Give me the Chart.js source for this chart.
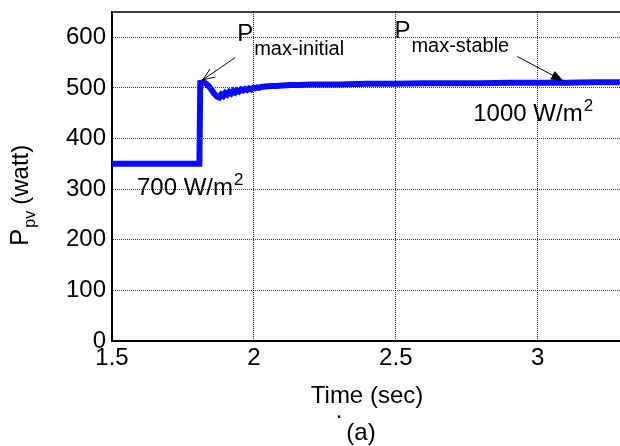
<!DOCTYPE html>
<html>
<head>
<meta charset="utf-8">
<script src="https://cdn.jsdelivr.net/npm/chart.js@4"></script>
<style>
  body { margin: 0; background: #fff; }
  #wrap { width: 620px; height: 446px; }
</style>
</head>
<body>
<div id="wrap"><canvas id="ppv" width="620" height="446"></canvas></div>
<script>
// time (sec) and PV power (watt)
const timeSec = [1.5, 1.808, 1.811, 1.82, 1.83, 1.84, 1.85, 1.86, 1.87, 1.878,
  1.885, 1.892, 1.899, 1.906, 1.913, 1.92, 1.927, 1.934, 1.941, 1.948,
  1.955, 1.962, 1.969, 1.976, 1.983, 1.99, 1.997, 2.004, 2.011, 2.018,
  2.025, 2.04, 2.06, 2.08, 2.1, 2.13, 2.16, 2.2, 2.3, 2.4,
  2.5, 2.6, 2.7, 2.8, 2.9, 3.0, 3.1, 3.2, 3.29]
const powerW = [350, 350, 510, 511, 509, 504, 497, 489, 483, 481,
  487, 484, 490, 487, 492, 489, 494, 491, 495, 493,
  497, 495, 498, 496, 499, 497, 500, 499, 501, 500,
  502, 503, 504, 504, 505, 506, 506, 507, 507, 508,
  508, 509, 509, 509, 510, 510, 510, 511, 511]

const xTicks = [1.5, 2, 2.5, 3]
const yTicks = [0, 100, 200, 300, 400, 500, 600]

const FONT = '"Liberation Sans", Arial, Helvetica, sans-serif'

// text + arrows drawn on top, anchored in data units
const annotations = {
  pInit: { t: 1.941, v: 592, sub: 'max-initial' },
  pStable: { t: 2.495, v: 598, sub: 'max-stable' },
  arrowInit: { from: [1.934, 560], to: [1.82, 516], filled: false },
  arrowStable: { from: [2.928, 562], to: [3.09, 514], filled: true },
  irr700: { t: 1.588, v: 289, text: '700 W/m' },
  irr1000: { t: 2.773, v: 434, text: '1000 W/m' },
}

function arrow(ctx, x0, y0, x1, y1, filled) {
  const a = Math.atan2(y1 - y0, x1 - x0)
  const len = 13, half = 0.38
  ctx.beginPath()
  ctx.moveTo(x0, y0)
  ctx.lineTo(x1, y1)
  ctx.stroke()
  ctx.beginPath()
  ctx.moveTo(x1 - len * Math.cos(a - half), y1 - len * Math.sin(a - half))
  ctx.lineTo(x1, y1)
  ctx.lineTo(x1 - len * Math.cos(a + half), y1 - len * Math.sin(a + half))
  if (filled) {
    ctx.closePath()
    ctx.fill()
  } else {
    ctx.stroke()
  }
}

const textPlugin = {
  id: 'textPlugin',
  afterDraw(chart) {
    const ctx = chart.ctx
    const xs = chart.scales.x, ys = chart.scales.y
    const a = chart.chartArea
    ctx.save()
    ctx.fillStyle = '#000'
    ctx.strokeStyle = '#000'

    // top frame line
    ctx.lineWidth = 1.5
    ctx.beginPath()
    ctx.moveTo(a.left, a.top)
    ctx.lineTo(a.right, a.top)
    ctx.stroke()

    ctx.textBaseline = 'alphabetic'
    ctx.textAlign = 'left'

    // P_max labels
    for (const k of ['pInit', 'pStable']) {
      const p = annotations[k]
      const x = xs.getPixelForValue(p.t), y = ys.getPixelForValue(p.v)
      ctx.font = '24px ' + FONT
      ctx.fillText('P', x, y)
      const w = ctx.measureText('P').width
      ctx.font = '20px ' + FONT
      ctx.fillText(p.sub, x + w + 1, y + 14)
    }

    // arrows
    ctx.lineWidth = 1
    for (const k of ['arrowInit', 'arrowStable']) {
      const r = annotations[k]
      arrow(ctx,
        xs.getPixelForValue(r.from[0]), ys.getPixelForValue(r.from[1]),
        xs.getPixelForValue(r.to[0]), ys.getPixelForValue(r.to[1]), r.filled)
    }

    // irradiance labels with superscript 2
    for (const k of ['irr700', 'irr1000']) {
      const p = annotations[k]
      const x = xs.getPixelForValue(p.t), y = ys.getPixelForValue(p.v)
      ctx.font = '24px ' + FONT
      ctx.fillText(p.text, x, y)
      const w = ctx.measureText(p.text).width
      ctx.font = '17px ' + FONT
      ctx.fillText('2', x + w + 1, y - 10)
    }

    // x title, stray dot, caption
    ctx.textAlign = 'center'
    ctx.font = '24px ' + FONT
    ctx.fillText('Time (sec)', 367, 403)
    ctx.fillText('.', 339, 418)
    ctx.fillText('(a)', 361, 440)

    // y title P_pv (watt), rotated
    ctx.translate(28, 246)
    ctx.rotate(-Math.PI / 2)
    ctx.textAlign = 'left'
    ctx.font = '26px ' + FONT
    ctx.fillText('P', 0, 0)
    let w = ctx.measureText('P').width + 1
    ctx.font = '16px ' + FONT
    ctx.fillText('pv', w, 7)
    w += ctx.measureText('pv').width + 6
    ctx.font = '24px ' + FONT
    ctx.fillText('(watt)', w, 0)
    ctx.restore()
  }
}

new Chart(document.getElementById('ppv'), {
  type: 'line',
  data: {
    datasets: [
      {
        label: 'Ppv',
        data: timeSec.map((t, i) => ({ x: t, y: powerW[i] })),
        borderColor: '#0a0aff',
        borderWidth: 6,
        pointRadius: 0,
        tension: 0,
        fill: false,
      },
    ],
  },
  options: {
    responsive: false,
    animation: false,
    layout: { padding: { top: 12, right: 0, left: 0, bottom: 0 } },
    plugins: {
      legend: { display: false },
      tooltip: { enabled: false },
    },
    scales: {
      x: {
        type: 'linear',
        min: 1.5,
        max: 3.29,
        afterBuildTicks: s => { s.ticks = xTicks.map(v => ({ value: v })) },
        afterFit: s => { s.height = 105; s.paddingLeft = 0; s.paddingRight = 0 },
        ticks: {
          color: '#000',
          padding: 3,
          maxRotation: 0,
          font: { family: FONT, size: 24 },
          callback: v => String(v),
        },
        grid: { color: 'rgba(0,0,0,0.85)', lineWidth: 1, drawTicks: false },
        border: { display: true, color: '#000', width: 2, dash: [1, 1] },
      },
      y: {
        min: 0,
        max: 650,
        afterBuildTicks: s => { s.ticks = yTicks.map(v => ({ value: v })) },
        afterFit: s => { s.width = 112; s.paddingTop = 0; s.paddingBottom = 0 },
        ticks: {
          color: '#000',
          padding: 6,
          font: { family: FONT, size: 24 },
          callback: v => String(v),
        },
        grid: { color: 'rgba(0,0,0,0.75)', lineWidth: 1, drawTicks: false },
        border: { display: true, color: '#000', width: 2, dash: [1, 1] },
      },
    },
  },
  plugins: [textPlugin],
})
</script>
</body>
</html>
